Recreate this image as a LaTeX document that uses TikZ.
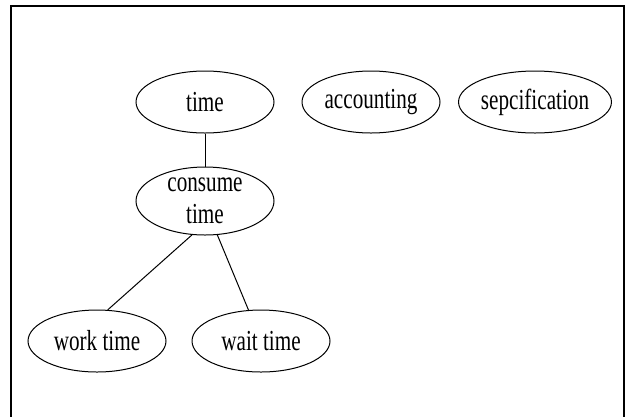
\documentclass[tikz,border=0pt]{standalone}
\usepackage{fontspec}
\newfontfamily\nodefont[FakeStretch=0.73]{Liberation Serif}
\usetikzlibrary{shapes.geometric}
\begin{document}
\begin{tikzpicture}[x=1pt,y=-1pt,font=\nodefont\fontsize{29}{32}\selectfont,
	concept/.style={draw,ellipse,line width=1pt,inner sep=0pt,minimum width=138pt,minimum height=62pt,align=center}]
			\useasboundingbox(0,0)rectangle(628,416);
			\draw[line width=1.5pt](11,430)--(11,6)--(624,6)--(624,430);
			\node[concept](time)at(205,102){time};
			\node[concept](acct)at(371,102){accounting};
			\node[concept](spec)at(535,102){sepcification};
			\node[concept,minimum height=68pt](cons)at(205,201){consume\\time};
			\node[concept](work)at(97,341){work time};
			\node[concept](wait)at(261,341){wait time};
			\draw[line width=1pt](time)--(cons);
			\draw[line width=1pt](cons.249)--(work.71);
			\draw[line width=1pt](cons.290)--(wait.112);
		\end{tikzpicture}
\end{document}
